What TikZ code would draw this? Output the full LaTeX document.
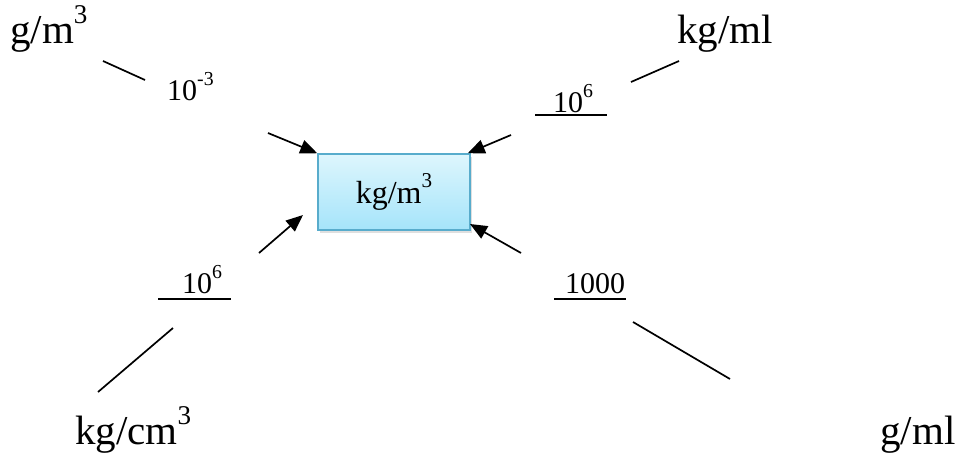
\documentclass[tikz,border=0pt]{standalone}
\usepackage{fontspec}
\setmainfont{Liberation Serif}
\usetikzlibrary{arrows.meta,shadows,calc}
\definecolor{boxtop}{RGB}{222,246,253}
\definecolor{boxbot}{RGB}{165,228,250}
\definecolor{boxborder}{RGB}{88,172,204}
\newcommand\upsc[1]{\raisebox{0.48em}{\scalebox{0.66}{#1}}}
\begin{document}
\begin{tikzpicture}[x=1pt,y=-1pt,
  unit/.style={inner sep=0pt, anchor=base west, font=\fontsize{41}{49}\selectfont},
  factor/.style={inner sep=0pt, anchor=base west, font=\fontsize{30}{36}\selectfont},
  conn/.style={line width=1.7pt},
  arr/.style={conn, -{Triangle[length=17pt,width=14pt]}},
  uline/.style={line width=1.7pt},
  mainbox/.style={draw=boxborder, line width=1.5pt, top color=boxtop, bottom color=boxbot,
    minimum width=152pt, minimum height=76pt, inner sep=0pt,
    drop shadow={shadow xshift=2pt, shadow yshift=-3pt, opacity=0.25},
    font=\fontsize{32}{38}\selectfont}]
\useasboundingbox (0,0) rectangle (960,458);

% central box
\node[mainbox] (box) at (394,192) {kg/m\upsc{3}};

% unit labels
\node[unit] (gm3)  at (10,43)  {g/m\upsc{3}};
\node[unit] (kgml) at (677,43) {kg/ml};
\node[unit] (kgcm3) at (75,444) {kg/cm\upsc{3}};
\node[unit] (gml)  at (880,444) {g/ml};

% factor labels
\node[factor] (f1) at (167,100) {10\upsc{-3}};
\node[factor] (f2) at (553,112) {10\upsc{6}};
\node[factor] (f3) at (182,293) {10\upsc{6}};
\node[factor] (f4) at (565,293) {1000};

% underlines of factors
\draw[uline] ($(f2.base west)+(-18,3)$) -- ++(72,0);
\draw[uline] ($(f3.base west)+(-24,6)$) -- ++(73,0);
\draw[uline] ($(f4.base west)+(-11,6)$) -- ++(72,0);

% connector end points
\coordinate (p1a) at (103,61);  \coordinate (p1b) at (145,80);
\coordinate (q1)  at (268,133);
\coordinate (p2a) at (679,61);  \coordinate (p2b) at (631,82);
\coordinate (q2)  at (511,135);
\coordinate (p3a) at (98,392);  \coordinate (p3b) at (173,328);
\coordinate (q3)  at (259,253); \coordinate (e3) at (303,215);
\coordinate (p4a) at (730,379); \coordinate (p4b) at (633,322);
\coordinate (q4)  at (521,253); \coordinate (e4) at (470,224);

% connectors
\draw[conn] (p1a) -- (p1b);
\draw[arr]  (q1) -- (box.north west);
\draw[conn] (p2a) -- (p2b);
\draw[arr]  (q2) -- ([xshift=-3pt]box.north east);
\draw[conn] (p3a) -- (p3b);
\draw[arr]  (q3) -- (e3);
\draw[conn] (p4a) -- (p4b);
\draw[arr]  (q4) -- (e4);
\end{tikzpicture}
\end{document}
